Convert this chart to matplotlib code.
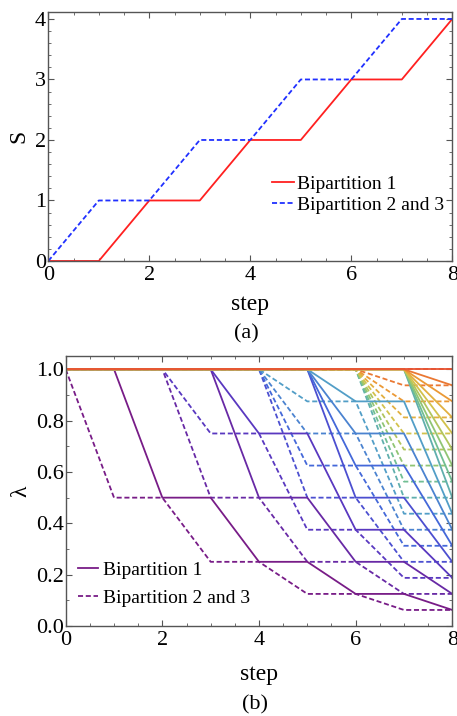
import matplotlib
matplotlib.use("Agg")
import matplotlib.pyplot as plt
from matplotlib.colors import LinearSegmentedColormap
from matplotlib.ticker import MultipleLocator, FormatStrFormatter
from matplotlib.lines import Line2D

plt.rcParams['font.family'] = ['Liberation Serif', 'DejaVu Serif']
plt.rcParams['mathtext.fontset'] = 'stix'

# ---------------- data ----------------
steps = [0, 1, 2, 3, 4, 5, 6, 7, 8]
S_bip1 = [0, 0, 1, 1, 2, 2, 3, 3, 4]
S_bip23 = [0, 1, 1, 2, 2, 3, 3, 4, 4]

# cumulative eigenvalue curves (index j = 1..16), bipartition 1 (solid)
lam_bip1 = [
    [1, 1, .5, .5, .25, .25, .125, .125, .0625],
    [1, 1, 1, 1, .5, .5, .25, .25, .125],
    [1, 1, 1, 1, .75, .75, .375, .375, .1875],
    [1, 1, 1, 1, 1, 1, .5, .5, .25],
    [1, 1, 1, 1, 1, 1, .625, .625, .3125],
    [1, 1, 1, 1, 1, 1, .75, .75, .375],
    [1, 1, 1, 1, 1, 1, .875, .875, .4375],
    [1, 1, 1, 1, 1, 1, 1, 1, .5],
    [1, 1, 1, 1, 1, 1, 1, 1, .5625],
    [1, 1, 1, 1, 1, 1, 1, 1, .625],
    [1, 1, 1, 1, 1, 1, 1, 1, .6875],
    [1, 1, 1, 1, 1, 1, 1, 1, .75],
    [1, 1, 1, 1, 1, 1, 1, 1, .8125],
    [1, 1, 1, 1, 1, 1, 1, 1, .875],
    [1, 1, 1, 1, 1, 1, 1, 1, .9375],
    [1, 1, 1, 1, 1, 1, 1, 1, 1],
]
# bipartition 2 and 3 (dashed)
lam_bip23 = [
    [1, .5, .5, .25, .25, .125, .125, .0625, .0625],
    [1, 1, 1, .5, .5, .25, .25, .125, .125],
    [1, 1, 1, .75, .75, .375, .375, .1875, .1875],
    [1, 1, 1, 1, 1, .5, .5, .25, .25],
    [1, 1, 1, 1, 1, .625, .625, .3125, .3125],
    [1, 1, 1, 1, 1, .75, .75, .375, .375],
    [1, 1, 1, 1, 1, .875, .875, .4375, .4375],
    [1, 1, 1, 1, 1, 1, 1, .5, .5],
    [1, 1, 1, 1, 1, 1, 1, .5625, .5625],
    [1, 1, 1, 1, 1, 1, 1, .625, .625],
    [1, 1, 1, 1, 1, 1, 1, .6875, .6875],
    [1, 1, 1, 1, 1, 1, 1, .75, .75],
    [1, 1, 1, 1, 1, 1, 1, .8125, .8125],
    [1, 1, 1, 1, 1, 1, 1, .875, .875],
    [1, 1, 1, 1, 1, 1, 1, .9375, .9375],
    [1, 1, 1, 1, 1, 1, 1, 1, 1],
]
legend_labels = ["Bipartition 1", "Bipartition 2 and 3"]

rainbow = LinearSegmentedColormap.from_list("mma_rainbow", [
    (0.00, (0.47, 0.11, 0.53)),
    (0.12, (0.36, 0.20, 0.74)),
    (0.25, (0.26, 0.38, 0.86)),
    (0.40, (0.32, 0.62, 0.78)),
    (0.52, (0.42, 0.74, 0.60)),
    (0.62, (0.60, 0.78, 0.42)),
    (0.75, (0.86, 0.76, 0.28)),
    (0.88, (0.93, 0.58, 0.20)),
    (1.00, (0.90, 0.33, 0.20)),
])

fig = plt.figure(figsize=(4.57, 7.16), dpi=100)
W, H = 457, 716
axA = fig.add_axes([48.3 / W, 1 - 261 / H, (452.3 - 48.3) / W, (261 - 12.3) / H])
axB = fig.add_axes([65.7 / W, 1 - 626 / H, (452.3 - 65.7) / W, (626 - 355.7) / H])

frame_col = '#555555'
for ax in (axA, axB):
    for sp in ax.spines.values():
        sp.set_color(frame_col)
        sp.set_linewidth(1.0)
    ax.tick_params(which='both', direction='in', top=True, right=True,
                   color=frame_col, labelsize=16)
    ax.tick_params(which='major', length=4, width=0.8)
    ax.tick_params(which='minor', length=2, width=0.6)
    ax.tick_params(axis='x', which='major', pad=3.5)
    ax.tick_params(axis='y', which='major', pad=1.5)
    ax.set_xlim(0, 8)
    ax.xaxis.set_major_locator(MultipleLocator(2))
    ax.xaxis.set_minor_locator(MultipleLocator(0.5))

dash = (0, (2.8, 1.5))
lw = 1.3

# ---- panel (a)
axA.plot(steps, S_bip1, color='#ff2020', lw=lw, label=legend_labels[0])
axA.plot(steps, S_bip23, color='#2030ff', lw=lw, ls=dash, label=legend_labels[1])
axA.set_ylim(0, 4.11)
axA.yaxis.set_major_locator(MultipleLocator(1))
axA.yaxis.set_minor_locator(MultipleLocator(0.2))
axA.set_xlabel('step', fontsize=17, labelpad=6.5)
axA.set_ylabel('S', fontsize=17, labelpad=4)
axA.legend(loc='upper left', bbox_to_anchor=(0.554, 0.344), frameon=False, fontsize=14,
           handlelength=1.1, handletextpad=0.2, labelspacing=0.18,
           borderpad=0, borderaxespad=0)
fig.text(246 / W, 1 - 334 / H, '(a)', ha='center', va='center', fontsize=16)

# ---- panel (b)
n = len(lam_bip1)
for j in range(n):
    c = rainbow(j / (n - 1))
    axB.plot(steps, lam_bip23[j], color=c, lw=lw, ls=dash)
for j in range(n):
    c = rainbow(j / (n - 1))
    axB.plot(steps, lam_bip1[j], color=c, lw=lw)
axB.set_ylim(0, 1.053)
axB.yaxis.set_major_locator(MultipleLocator(0.2))
axB.yaxis.set_minor_locator(MultipleLocator(0.1))
axB.yaxis.set_major_formatter(FormatStrFormatter('%.1f'))
axB.set_xlabel('step', fontsize=17, labelpad=10)
axB.set_ylabel('λ', fontsize=17, labelpad=3)
pc = rainbow(0.0)
handles = [Line2D([], [], color=pc, lw=lw),
           Line2D([], [], color=pc, lw=lw, ls=dash)]
axB.legend(handles, legend_labels, loc='upper left', bbox_to_anchor=(0.032, 0.240),
           frameon=False, fontsize=14, handlelength=1.05, handletextpad=0.25,
           labelspacing=0.55, borderpad=0, borderaxespad=0)
fig.text(255 / W, 1 - 705 / H, '(b)', ha='center', va='center', fontsize=16)

fig.savefig('out.png', dpi=100)
